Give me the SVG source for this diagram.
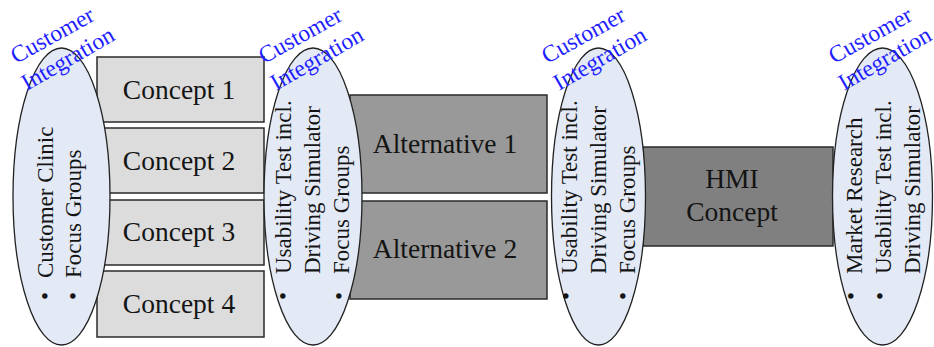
<svg xmlns="http://www.w3.org/2000/svg" width="934" height="347" viewBox="0 0 934 347">
<style>
.bg{fill:#ffffff}
.c{fill:#dcdcdc;stroke:#2a2a2a;stroke-width:1.5}
.a{fill:#999999;stroke:#2a2a2a;stroke-width:1.5}
.h{fill:#808080;stroke:#2a2a2a;stroke-width:1.5}
.e{fill:#e3eaf6;stroke:#222;stroke-width:1.3}
.bt{font-family:"Liberation Serif","Times New Roman",serif;font-size:27.5px;fill:#141414;text-anchor:middle}
.vt{font-family:"Liberation Serif","Times New Roman",serif;font-size:23px;fill:#141414}
.ci{font-family:"Liberation Serif","Times New Roman",serif;font-size:23.5px;fill:#1f1fff}
</style>
<rect class="bg" x="0" y="0" width="934" height="347"/>
<g id="connectors"></g>
<g id="concept1"><rect class="c" x="97" y="57" width="167" height="65"/><text class="bt" x="179" y="99">Concept 1</text></g>
<g id="concept2"><rect class="c" x="97" y="128" width="167" height="65"/><text class="bt" x="179" y="170">Concept 2</text></g>
<g id="concept3"><rect class="c" x="97" y="200" width="167" height="65"/><text class="bt" x="179" y="241">Concept 3</text></g>
<g id="concept4"><rect class="c" x="97" y="271" width="167" height="66"/><text class="bt" x="179" y="313">Concept 4</text></g>
<g id="alt1"><rect class="a" x="350" y="95" width="197" height="98"/><text class="bt" x="445" y="153">Alternative 1</text></g>
<g id="alt2"><rect class="a" x="350" y="201" width="197" height="98"/><text class="bt" x="445" y="258">Alternative 2</text></g>
<g id="hmi"><rect class="h" x="643" y="147" width="190" height="99"/><text class="bt" x="732" y="188">HMI</text><text class="bt" x="732" y="221">Concept</text></g>
<g id="ellipse1">
<ellipse class="e" cx="61.5" cy="196.5" rx="48.5" ry="148.5"/>
<text class="vt" transform="translate(53,300) rotate(-90)">•</text>
<text class="vt" transform="translate(81,300) rotate(-90)">•</text>
<text class="vt" transform="translate(53,278) rotate(-90)">Customer Clinic</text>
<text class="vt" transform="translate(81,278) rotate(-90)">Focus Groups</text>
<text class="ci" transform="translate(16,64) rotate(-29)">Customer</text>
<text class="ci" transform="translate(27,91) rotate(-30)">Integration</text>
</g>
<g id="ellipse2">
<ellipse class="e" cx="313" cy="196.5" rx="49" ry="148.5"/>
<text class="vt" transform="translate(291,300) rotate(-90)">•</text>
<text class="vt" transform="translate(347,300) rotate(-90)">•</text>
<text class="vt" transform="translate(291,274) rotate(-90)">Usability Test incl.</text>
<text class="vt" transform="translate(320,274) rotate(-90)">Driving Simulator</text>
<text class="vt" transform="translate(349,274) rotate(-90)">Focus Groups</text>
<text class="ci" transform="translate(264,64) rotate(-29)">Customer</text>
<text class="ci" transform="translate(276,91) rotate(-30)">Integration</text>
</g>
<g id="ellipse3">
<ellipse class="e" cx="598.5" cy="196.5" rx="47" ry="148.5"/>
<text class="vt" transform="translate(574,300) rotate(-90)">•</text>
<text class="vt" transform="translate(631,300) rotate(-90)">•</text>
<text class="vt" transform="translate(577,274) rotate(-90)">Usability Test incl.</text>
<text class="vt" transform="translate(606,274) rotate(-90)">Driving Simulator</text>
<text class="vt" transform="translate(635,274) rotate(-90)">Focus Groups</text>
<text class="ci" transform="translate(547,64) rotate(-29)">Customer</text>
<text class="ci" transform="translate(559,91) rotate(-30)">Integration</text>
</g>
<g id="ellipse4">
<ellipse class="e" cx="882.5" cy="196.5" rx="50" ry="148.5"/>
<text class="vt" transform="translate(859,300) rotate(-90)">•</text>
<text class="vt" transform="translate(888,300) rotate(-90)">•</text>
<text class="vt" transform="translate(862,274) rotate(-90)">Market Research</text>
<text class="vt" transform="translate(891,274) rotate(-90)">Usability Test incl.</text>
<text class="vt" transform="translate(920,274) rotate(-90)">Driving Simulator</text>
<text class="ci" transform="translate(834,64) rotate(-29)">Customer</text>
<text class="ci" transform="translate(844,91) rotate(-30)">Integration</text>
</g>
</svg>
